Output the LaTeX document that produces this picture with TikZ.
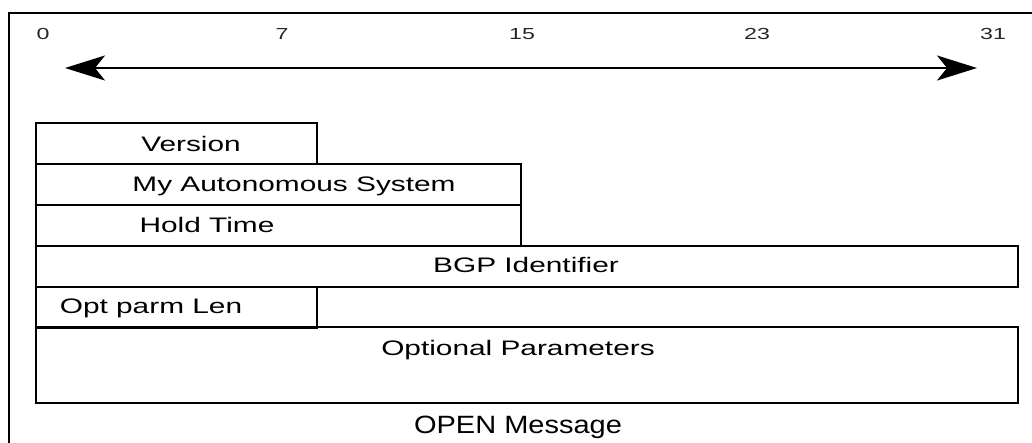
\documentclass[tikz,border=0pt]{standalone}
\usepackage{fontspec}
\setmainfont{Liberation Sans}
\newfontfamily\fieldfont[FakeStretch=1.42]{Liberation Sans}
\newfontfamily\titlefont[FakeStretch=1.16]{Liberation Sans}
\newfontfamily\bitfont[FakeStretch=1.45]{Liberation Sans}
\usetikzlibrary{arrows.meta}
\begin{document}
\begin{tikzpicture}[x=1pt,y=-1pt,
  field/.style={draw,line width=2pt,rectangle,anchor=north west,inner sep=0pt},
  fieldtext/.style={anchor=base,inner sep=0pt,font=\fieldfont\fontsize{21}{25}\selectfont},
  bitnum/.style={anchor=base,inner sep=0pt,font=\bitfont\fontsize{16}{19}\selectfont,text=black!85},
  caption/.style={anchor=base,inner sep=0pt,font=\titlefont\fontsize{25}{30}\selectfont},
  span/.style={line width=2pt,{Stealth[length=40pt,width=25pt,inset=10pt]}-{Stealth[length=40pt,width=25pt,inset=10pt]}}
]
\useasboundingbox (0,0) rectangle (1032,443);

% outer frame (top and left edges)
\coordinate (fbl) at (9,443);
\coordinate (ftl) at (9,13);
\coordinate (ftr) at (1032,13);
\draw[line width=2pt] (fbl) -- (ftl) -- (ftr);

% bit positions
\node[bitnum] (b0)  at (43,40)  {0};
\node[bitnum] (b7)  at (282,40) {7};
\node[bitnum] (b15) at (522,40) {15};
\node[bitnum] (b23) at (757,40) {23};
\node[bitnum] (b31) at (993,40) {31};

% 32-bit width arrow
\coordinate (al) at (65,68);
\coordinate (ar) at (977,68);
\draw[span] (al) -- (ar);

% header fields
\node[field,minimum width=281,minimum height=41] (ver)  at (35,122) {};
\node[field,minimum width=485,minimum height=41] (myas) at (35,163) {};
\node[field,minimum width=485,minimum height=41] (hold) at (35,204) {};
\node[field,minimum width=982,minimum height=41] (bgp)  at (35,245) {};
\node[field,minimum width=281,minimum height=41] (olen) at (35,286) {};
\node[field,minimum width=982,minimum height=76] (opts) at (35,326) {};

\node[fieldtext] (tver)  at (191,151.5) {Version};
\node[fieldtext] (tmyas) at (294,191.5) {My Autonomous System};
\node[fieldtext] (thold) at (207,232.5) {Hold Time};
\node[fieldtext] (tbgp)  at (526,272.5) {BGP Identifier};
\node[fieldtext] (tolen) at (151,313.5) {Opt parm Len};
\node[fieldtext] (topts) at (518,355.5) {Optional Parameters};

\node[caption] (title) at (518,433) {OPEN Message};
\end{tikzpicture}
\end{document}
